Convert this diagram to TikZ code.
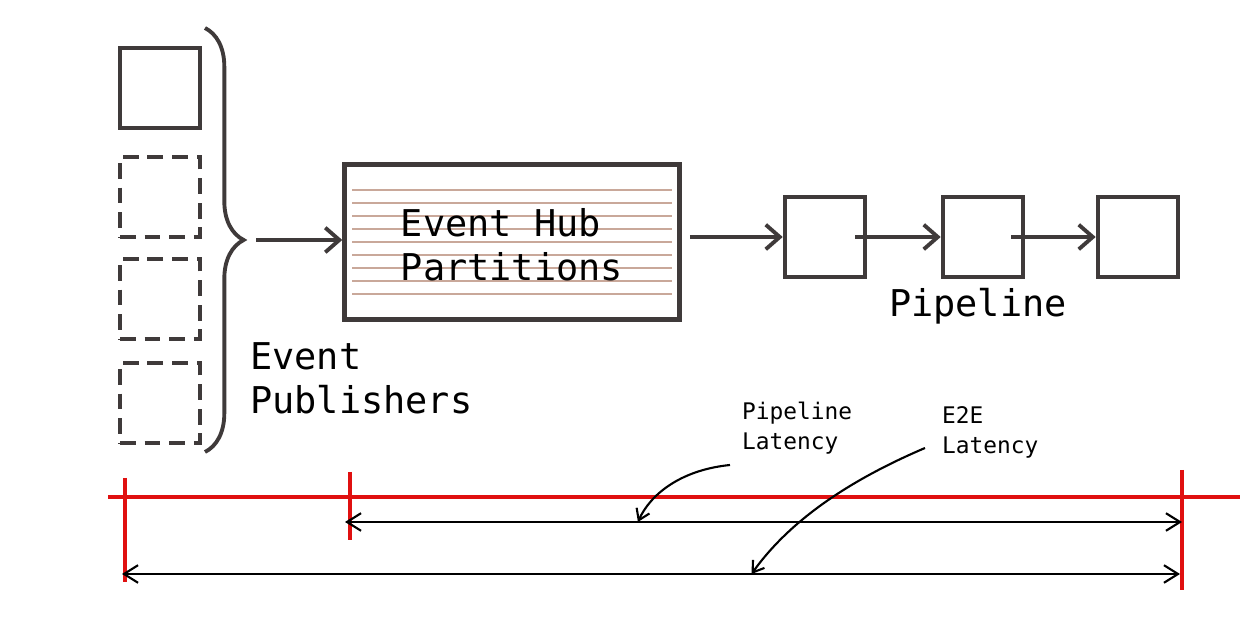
\documentclass[tikz,border=0pt]{standalone}
\usepackage{fontspec}
\setmonofont{DejaVu Sans Mono}
\usetikzlibrary{arrows.meta, decorations.pathreplacing}
\definecolor{pen}{HTML}{3F3A3A}
\definecolor{stripe}{HTML}{C9A89A}
\definecolor{marker}{HTML}{E01010}
\begin{document}
\begin{tikzpicture}[
    x=0.02cm, y=-0.02cm,
    box/.style={draw=pen, line width=2.6pt, minimum width=1.6cm, minimum height=1.6cm, inner sep=0pt},
    ghost/.style={box, dash pattern=on 9pt off 5pt},
    flow/.style={draw=pen, line width=2.2pt, -{Straight Barb[length=8pt, width=14pt]}},
    span/.style={draw=black, line width=1.2pt, {Straight Barb[length=8pt, width=10pt]}-{Straight Barb[length=8pt, width=10pt]}},
    tick/.style={draw=marker, line width=2.4pt},
    big/.style={font=\ttfamily\fontsize{21}{25}\selectfont, text=black, align=left},
    small/.style={font=\ttfamily\fontsize{13}{17}\selectfont, text=black, align=left}
  ]
  \useasboundingbox (0,0) rectangle (1252,617);

  % publishers
  \node [box]   (P1) at (160,88)  {};
  \node [ghost] (P2) at (160,197) {};
  \node [ghost] (P3) at (160,299) {};
  \node [ghost] (P4) at (160,403) {};
  \draw [pen, line width=2.2pt, decorate, decoration={brace, amplitude=22pt}]
    (205,28) -- (205,452);
  \coordinate (tip) at (256,240);
  \node [big, anchor=north west] (pub) at (244,336) {Event\\Publishers};

  % event hub
  \node [box, minimum width=6.7cm, minimum height=3.1cm] (hub) at (512,242) {};
  \foreach \y in {190,203,216,229,242,255,268,281,294}
    \draw [stripe, line width=0.9pt] (352,\y) -- (672,\y);
  \node [big] (hubtext) at (512,245) {Event Hub\\Partitions};
  \draw [flow] (tip) -- (hub.west |- tip);

  % pipeline
  \node [box] (S1) at (825,237)  {};
  \node [box] (S2) at (983,237)  {};
  \node [box] (S3) at (1138,237) {};
  \node [big, anchor=north] (pipe) at (978,282) {Pipeline};
  \draw [flow] (hub.east) ++(8,-5) -- (S1.west);
  \draw [flow] (S1.center) ++(30,0) -- (S2.west);
  \draw [flow] (S2.center) ++(28,0) -- (S3.west);

  % timeline
  \draw [marker, line width=2.8pt] (108,497) -- (1240,497);
  \draw [tick] (125,478) -- (125,582);
  \draw [tick] (350,472) -- (350,540);
  \draw [tick] (1182,470) -- (1182,590);
  \coordinate (p0) at (345,522);
  \coordinate (p1) at (1182,522);
  \coordinate (e0) at (122,574);
  \coordinate (e1) at (1180,574);
  \draw [span] (p0) -- coordinate[pos=0.35] (pm) (p1);
  \draw [span] (e0) -- coordinate[pos=0.595] (em) (e1);

  % latency labels
  \node [small, anchor=north west] (plat) at (736,396) {Pipeline\\Latency};
  \node [small, anchor=north west] (elat) at (936,400) {E2E\\Latency};
  \draw [black, line width=1.2pt, -{Straight Barb[length=6pt, width=8pt]}]
    (730,465) .. controls (680,470) and (650,495) .. (pm);
  \draw [black, line width=1.2pt, -{Straight Barb[length=6pt, width=8pt]}]
    (925,448) .. controls (850,480) and (790,520) .. (em);
\end{tikzpicture}
\end{document}
